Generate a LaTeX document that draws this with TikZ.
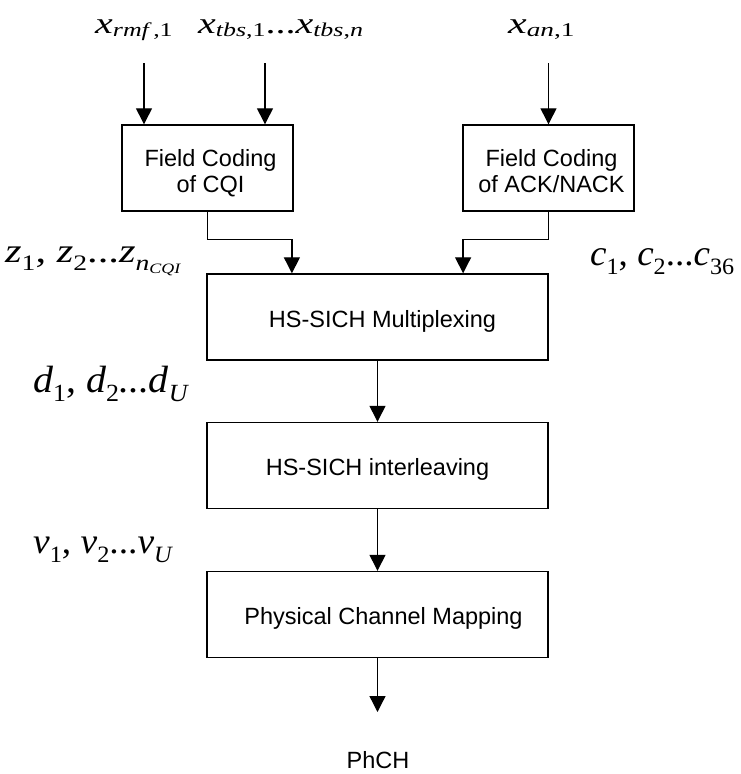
\documentclass[tikz,border=0pt]{standalone}
\usepackage{fontspec}
\usepackage{graphicx}
\setmainfont{Liberation Sans}
\newfontfamily\tnr{Liberation Serif}
\usetikzlibrary{arrows.meta,calc}
\makeatletter
\newcommand\mysub[2][0.25]{\raisebox{-#1em}{\fontsize{\fpeval{0.65*\f@size}}{1}\selectfont #2}}
\makeatother
\newcommand\up[1]{{\upshape #1}}
% shift content: #1 = right shift (doubled as left pad), #2 = down shift
\newcommand\dn[3]{\hspace*{#1}\hspace*{#1}\raisebox{-#2}[\height][\depth]{#3}}
\newcommand\two[2]{\begin{tabular}{@{}c@{}}#1\\#2\end{tabular}}
\begin{document}
\begin{tikzpicture}[x=1pt,y=-1pt,
  blk/.style={draw,line width=1.4pt,minimum width=171pt,minimum height=86pt,inner sep=0pt,align=center,font=\fontsize{23.5}{26}\selectfont},
  wblk/.style={blk,minimum width=341pt},
  arr/.style={line width=1.3pt,-{Triangle[width=16pt,length=16pt]}},
  mlab/.style={inner sep=0pt,anchor=base west},
  txt/.style={inner sep=0pt,font=\fontsize{23.5}{26}\selectfont}]
\useasboundingbox (0,0) rectangle (741,774);
% blocks
\node[blk] (cqi) at (207.5,168) {\dn{3pt}{6pt}{\two{Field Coding}{of CQI}}};
\node[blk] (ack) at (548.5,168) {\dn{3pt}{6pt}{\two{Field Coding}{of ACK/NACK}}};
\node[wblk] (mux) at (377.5,317) {\dn{5pt}{4pt}{HS-SICH Multiplexing}};
\node[wblk] (intl) at (377.5,465.5) {\dn{0pt}{4pt}{HS-SICH interleaving}};
\node[wblk] (map) at (377.5,614.5) {\dn{6pt}{3.5pt}{Physical Channel Mapping}};
\node[txt,anchor=base] (phch) at (378,768) {PhCH};
% labels
\node[mlab,font=\tnr\itshape\fontsize{30}{30}\selectfont] (xr) at (95,33) {\scalebox{1.33}[1]{x\mysub[0.12]{rmf\up{\,,1}}}};
\node[mlab,font=\tnr\itshape\fontsize{30}{30}\selectfont] (xt) at (198,33) {\scalebox{1.33}[1]{x\mysub[0.12]{tbs\up{,1}}\up{...}x\mysub[0.12]{tbs\up{,}n}}};
\node[mlab,font=\tnr\itshape\fontsize{30}{30}\selectfont] (xa) at (508,33) {\scalebox{1.4}[1]{x\mysub[0.12]{an\up{,1}}}};
\node[mlab,font=\tnr\itshape\fontsize{34}{34}\selectfont] (zl) at (5,262) {\scalebox{1.25}[1]{z\mysub{\up{1}}\up{, }z\mysub{\up{2}}\up{...}z\mysub{n\mysub[0.15]{CQI}}}};
\node[mlab,font=\tnr\itshape\fontsize{36}{36}\selectfont] (cl) at (590,265) {\scalebox{1.03}[1]{c\mysub{\up{1}}\up{, }c\mysub{\up{2}}\up{...}c\mysub{\up{36}}}};
\node[mlab,font=\tnr\itshape\fontsize{38}{38}\selectfont] (dl) at (33,392) {\scalebox{1.05}[1]{d\mysub{\up{1}}\up{, }d\mysub{\up{2}}\up{...}d\mysub{U}}};
\node[mlab,font=\tnr\itshape\fontsize{36}{36}\selectfont] (vl) at (33,553) {\scalebox{1.04}[1]{v\mysub{\up{1}}\up{, }v\mysub{\up{2}}\up{...}v\mysub{U}}};
% input arrow start points
\coordinate (s1) at (144,63);
\coordinate (s2) at (265,63);
\coordinate (s3) at (548.5,63);
\draw[arr] (s1) -- (s1 |- cqi.north);
\draw[arr] (s2) -- (s2 |- cqi.north);
\draw[arr] (s3) -- (ack.north);
% merges
\coordinate (m1) at ($(mux.north west)!0.25!(mux.north east)$);
\coordinate (m2) at ($(mux.north west)!0.75!(mux.north east)$);
\draw[arr] (cqi.south) -- ++(0,28) -| (m1);
\draw[arr] (ack.south) -- ++(0,28) -| (m2);
\draw[arr] (mux.south) -- (intl.north);
\draw[arr] (intl.south) -- (map.north);
\coordinate (e) at (377.5,712);
\draw[arr] (map.south) -- (e);
\end{tikzpicture}
\end{document}
